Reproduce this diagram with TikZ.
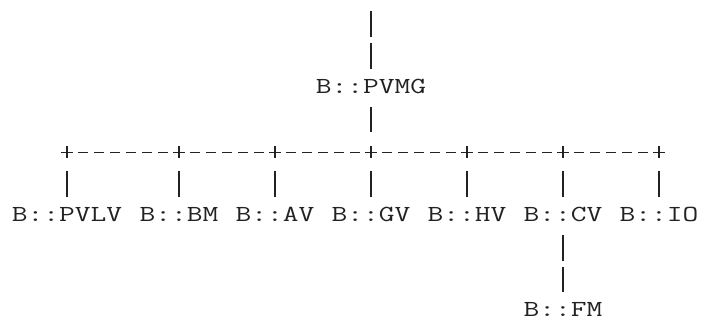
\documentclass[tikz,border=0pt]{standalone}
\usepackage{graphicx}
\definecolor{ink}{HTML}{222222}
\newcommand{\stretchtt}[1]{\scalebox{1.33}[1]{#1}}
\tikzset{
  conn/.style={draw=ink, line width=1.25pt},
  vbar/.style={conn, dash pattern=on 26pt off 6pt},
  hdash/.style={conn, dash pattern=on 10pt off 6pt, shorten <=5pt, shorten >=5pt},
  lbl/.style={inner sep=0pt, anchor=base, text height=25pt, text depth=13pt, text=ink,
    font=\fontsize{23}{23}\selectfont\ttfamily},
  junction/.style={inner sep=0pt, minimum size=12pt,
    path picture={\draw[conn] (path picture bounding box.north) -- (path picture bounding box.south)
      (path picture bounding box.west) -- (path picture bounding box.east);}}
}
\begin{document}
\begin{tikzpicture}[x=1pt,y=-1pt]
\useasboundingbox (0,0) rectangle (701,320);
% labels
\coordinate (top) at (371,11);
\node[lbl] (pvmg) at (371,94) {\stretchtt{B::PVMG}};
\node[lbl] (pvlv) at (67,222) {\stretchtt{B::PVLV}};
\node[lbl] (bm) at (179,222) {\stretchtt{B::BM}};
\node[lbl] (av) at (275,222) {\stretchtt{B::AV}};
\node[lbl] (gv) at (371,222) {\stretchtt{B::GV}};
\node[lbl] (hv) at (467,222) {\stretchtt{B::HV}};
\node[lbl] (cv) at (563,222) {\stretchtt{B::CV}};
\node[lbl] (io) at (659,222) {\stretchtt{B::IO}};
\node[lbl, text height=24pt] (fm) at (563,316) {\stretchtt{B::FM}};
% junctions
\node[junction] (j1) at (67,152.5) {};
\node[junction] (j2) at (179,152.5) {};
\node[junction] (j3) at (275,152.5) {};
\node[junction] (j4) at (371,152.5) {};
\node[junction] (j5) at (467,152.5) {};
\node[junction] (j6) at (563,152.5) {};
\node[junction] (j7) at (659,152.5) {};
% vertical connectors
\draw[vbar] (top) -- (pvmg.north);
\draw[vbar, shorten >=14pt] (pvmg.south) -- (j4.north);
\foreach \j/\n in {j1/pvlv, j2/bm, j3/av, j4/gv, j5/hv, j6/cv, j7/io}
  \draw[vbar, shorten <=12pt] (\j.south) -- (\n.north);
\draw[vbar] (cv.south) -- (fm.north);
% horizontal connectors
\draw[hdash] (j1.east) -- (j2.west);
\draw[hdash] (j2.east) -- (j3.west);
\draw[hdash] (j3.east) -- (j4.west);
\draw[hdash] (j4.east) -- (j5.west);
\draw[hdash] (j5.east) -- (j6.west);
\draw[hdash] (j6.east) -- (j7.west);
\end{tikzpicture}
\end{document}
